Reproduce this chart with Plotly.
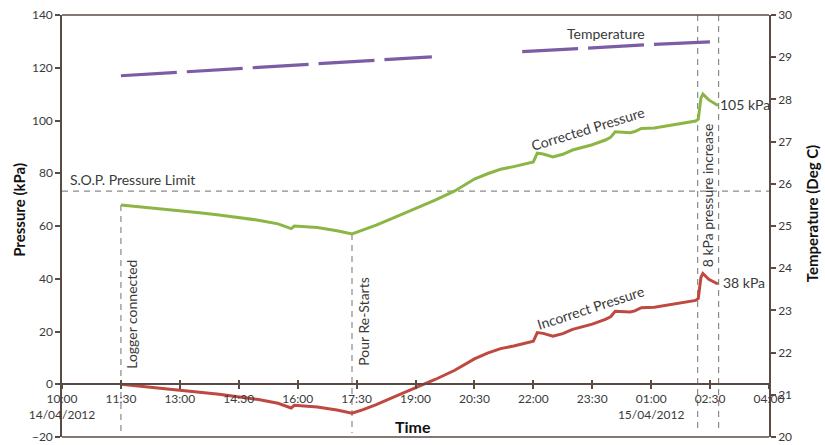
import plotly.graph_objects as go

# ---------------- data ----------------
press_times = ["11:30","12:00","12:30","13:00","13:30","14:00","14:30","15:00","15:30","15:45",
               "15:50","15:55","16:10","16:30","17:00","17:23","17:40","18:00","18:30","19:00",
               "19:30","20:00","20:15","20:30","20:50","21:10","21:30","21:55","22:00","22:06",
               "22:15","22:30","22:45","23:00","23:30","23:50","23:58","00:05","00:28","00:35",
               "00:45","01:05","01:30","01:45","02:08","02:12","02:16","02:19","02:28","02:42"]
corrected = [68.0, 67.3, 66.6, 65.8, 65.0, 64.2, 63.3, 62.2, 60.8, 59.5,
             59.0, 60.0, 59.8, 59.4, 58.2, 57.0, 58.5, 60.3, 63.5, 66.5,
             69.8, 73.3, 75.5, 77.8, 79.8, 81.5, 82.5, 84.0, 84.3, 87.6,
             87.3, 86.2, 87.2, 88.8, 90.8, 92.6, 93.6, 95.7, 95.4, 95.8,
             97.0, 97.2, 98.2, 98.9, 99.8, 100.5, 108.5, 110.0, 107.8, 105.7]
incorrect = [0.0, -0.7, -1.4, -2.2, -3.0, -3.8, -4.7, -5.8, -7.2, -8.5,
             -9.0, -8.0, -8.2, -8.6, -9.8, -11.0, -9.6, -7.7, -4.5, -1.5,
             1.8, 5.3, 7.5, 9.6, 11.8, 13.5, 14.5, 16.0, 16.3, 19.6,
             19.3, 18.2, 19.2, 20.8, 22.8, 24.6, 25.6, 27.7, 27.4, 27.8,
             29.0, 29.2, 30.2, 30.9, 31.8, 32.5, 40.5, 42.0, 39.8, 38.0]

temp_times = ["11:30","14:00","16:30","19:25","20:30","21:43","23:30","01:00","02:43"]
temperature = [28.56, 28.70, 28.84, 29.01, None, 29.13, 29.23, 29.30, 29.37]

tick_times = ["10:00","11:30","13:00","14:30","16:00","17:30","19:00","20:30","22:00",
              "23:30","01:00","02:30","04:00"]
tick_labels = ["10:00<br>14/04/2012","11:30","13:00","14:30","16:00","17:30","19:00","20:30",
               "22:00","23:30","01:00<br>15/04/2012","02:30","04:00"]

event_times = ["11:30", "17:23", "02:11", "02:43"]
sop_limit = 73.2


def ts(hhmm):
    h = int(hhmm[:2])
    day = "2012-04-14" if h >= 10 else "2012-04-15"
    return f"{day} {hhmm}"


px = [ts(t) for t in press_times]
tx = [ts(t) for t in temp_times]
tv = [ts(t) for t in tick_times]
x_start, x_end = ts("10:00"), ts("04:00")

GREEN = "#8BB645"
RED = "#BF4840"
PURPLE = "#7D5CA6"
AXIS = "#5a4b45"
TXT = "#3a3a3a"
FONT = "Lato"

fig = go.Figure()
fig.add_trace(go.Scatter(x=tx, y=temperature, yaxis="y2", mode="lines",
                         line=dict(color=PURPLE, width=3.2, dash="56px,10px"),
                         connectgaps=False, showlegend=False))
fig.add_trace(go.Scatter(x=px, y=corrected, mode="lines",
                         line=dict(color=GREEN, width=3), showlegend=False))
fig.add_trace(go.Scatter(x=px, y=incorrect, mode="lines",
                         line=dict(color=RED, width=3), showlegend=False))

shapes = []
# SOP horizontal dashed line
shapes.append(dict(type="line", xref="paper", yref="y", x0=0, x1=1, y0=sop_limit, y1=sop_limit,
                   line=dict(color="#8a8a8a", width=1.2, dash="6px,5px"), layer="below"))
# vertical event lines
starts = [68.0, 57.0, 140, 140]
for t, y0 in zip(event_times, starts):
    shapes.append(dict(type="line", xref="x", yref="y", x0=ts(t), x1=ts(t), y0=y0, y1=-18.5,
                       line=dict(color="#8a8a8a", width=1.2, dash="6px,5px"), layer="below"))
# top & bottom frame
for yv in (0, 1):
    shapes.append(dict(type="line", xref="paper", yref="paper", x0=0, x1=1, y0=yv, y1=yv,
                       line=dict(color=AXIS, width=1.5)))

ann_font = dict(family=FONT, size=14, color=TXT)
annotations = [
    dict(text="S.O.P. Pressure Limit", xref="paper", yref="y", x=0.008, y=sop_limit,
         xanchor="left", yanchor="bottom", yshift=1, showarrow=False, font=ann_font),
    dict(text="Temperature", xref="x", yref="y2", x=ts("23:51"), y=29.55,
         xanchor="center", yanchor="middle", showarrow=False, font=ann_font),
    dict(text="Corrected Pressure", xref="x", yref="y", x=ts("23:24"), y=96.9,
         xanchor="center", yanchor="middle", textangle=-17, showarrow=False, font=ann_font),
    dict(text="Incorrect Pressure", xref="x", yref="y", x=ts("23:28"), y=29.0,
         xanchor="center", yanchor="middle", textangle=-18, showarrow=False, font=ann_font),
    dict(text="Logger connected", xref="x", yref="y", x=ts("11:30"), y=26.7, xshift=11,
         xanchor="center", yanchor="middle", textangle=-90, showarrow=False, font=ann_font),
    dict(text="Pour Re-Starts", xref="x", yref="y", x=ts("17:23"), y=23.7, xshift=12,
         xanchor="center", yanchor="middle", textangle=-90, showarrow=False, font=ann_font),
    dict(text="8 kPa pressure increase", xref="x", yref="y", x=ts("02:11"), y=71.5, xshift=10,
         xanchor="center", yanchor="middle", textangle=-90, showarrow=False, font=ann_font),
    dict(text="105 kPa", xref="x", yref="y", x=ts("02:42"), y=106, xanchor="left", xshift=0,
         yanchor="middle", showarrow=False, font=ann_font),
    dict(text="38 kPa", xref="x", yref="y", x=ts("02:42"), y=38.5, xanchor="left", xshift=3,
         yanchor="middle", showarrow=False, font=ann_font),
    dict(text="<b>Pressure (kPa)</b>", xref="paper", yref="paper", x=-0.061, y=0.538,
         xanchor="center", yanchor="middle", textangle=-90, showarrow=False,
         font=dict(family=FONT, size=15, color="#111")),
    dict(text="<b>Temperature (Deg C)</b>", xref="paper", yref="paper", x=1.062, y=0.53,
         xanchor="center", yanchor="middle", textangle=-90, showarrow=False,
         font=dict(family=FONT, size=15, color="#111")),
    dict(text="<b>Time</b>", xref="paper", yref="paper", x=0.497, y=0.024,
         xanchor="center", yanchor="middle", showarrow=False,
         font=dict(family=FONT, size=16, color="#111")),
]

tick_font = dict(family=FONT, size=12, color=TXT)
fig.update_layout(
    width=825, height=445,
    margin=dict(l=62, r=56, t=15, b=8, autoexpand=False),
    paper_bgcolor="white", plot_bgcolor="white",
    xaxis=dict(type="date", range=[x_start, x_end], tickvals=tv, ticktext=tick_labels,
               anchor="free", position=0.125, showline=True, linecolor=AXIS, linewidth=1.5,
               ticks="outside", ticklen=4, tickcolor=AXIS, tickwidth=1.5, showgrid=False,
               zeroline=False, tickfont=tick_font, automargin=False),
    xaxis2=dict(type="date", range=[x_start, x_end], tickvals=tv, overlaying="x",
                anchor="free", position=0.125, showline=False, ticks="inside", ticklen=4,
                tickcolor=AXIS, tickwidth=1.5, showticklabels=False, showgrid=False,
                zeroline=False, automargin=False),
    yaxis=dict(range=[-20, 140], dtick=20, showline=True, linecolor=AXIS, linewidth=1.5,
               ticks="outside", ticklen=5, tickcolor=AXIS, tickwidth=1.5, showgrid=False,
               zeroline=False, tickfont=tick_font, automargin=False),
    yaxis2=dict(range=[20, 30], dtick=1, overlaying="y", side="right", showline=True,
                linecolor=AXIS, linewidth=1.5, ticks="outside", ticklen=5, tickcolor=AXIS,
                tickwidth=1.5, showgrid=False, zeroline=False, tickfont=tick_font,
                automargin=False),
    shapes=shapes, annotations=annotations,
)
# dummy trace to show xaxis2 ticks
fig.add_trace(go.Scatter(x=[x_start], y=[None], xaxis="x2", showlegend=False, hoverinfo="skip"))

fig.write_html("out.html")
